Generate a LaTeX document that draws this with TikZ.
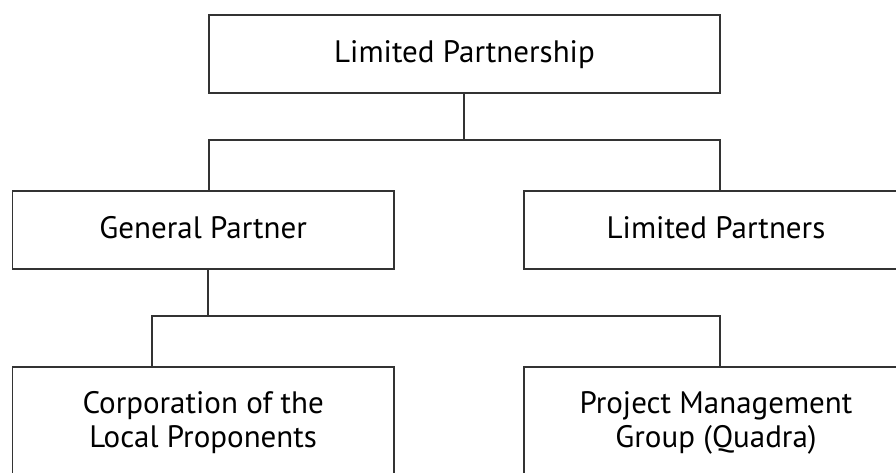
\documentclass[tikz,border=0pt]{standalone}
\usepackage{fontspec}
\setmainfont{PT Sans}
\begin{document}
\begin{tikzpicture}[x=1pt,y=-1pt,
  box/.style={draw=black!80, line width=1.3pt, inner sep=0pt},
  lbl/.style={anchor=base, inner sep=0pt, font=\fontsize{31}{37}\selectfont},
  wire/.style={draw=black!80, line width=1.3pt}]
\useasboundingbox (0,0) rectangle (896,473);
\clip (0,0) rectangle (896,473);
% boxes
\node[box, minimum width=511pt, minimum height=78pt] (top) at (464.5,54) {};
\node[box, minimum width=381.5pt, minimum height=78pt] (gp) at (203.2,230) {};
\node[box, minimum width=382pt, minimum height=78pt] (lp) at (715,230) {};
\node[box, minimum width=381.5pt, minimum height=130pt] (corp) at (203.2,432) {};
\node[box, minimum width=382pt, minimum height=130pt] (pmg) at (715,432) {};
% texts
\node[lbl] (ttop) at (464.5,62.7) {Limited Partnership};
\node[lbl] (tgp) at (203.2,238.5) {General Partner};
\node[lbl] (tlp) at (716,238.5) {Limited Partners};
\node[lbl] (tc1) at (203.2,413) {Corporation of the};
\node[lbl] (tc2) at (203.2,447) {Local Proponents};
\node[lbl] (tp1) at (716,413) {Project Management};
\node[lbl] (tp2) at (716,447) {Group (Quadra)};
% connectors
\coordinate (a) at (464,140);
\coordinate (al) at (209,140);
\coordinate (ar) at (720,140);
\coordinate (b) at (208,316);
\coordinate (bl) at (152,316);
\coordinate (br) at (720,316);
\draw[wire] (top.south -| a) -- (a);
\draw[wire] (al |- gp.north) -- (al) -- (ar) -- (ar |- lp.north);
\draw[wire] (gp.south -| b) -- (b);
\draw[wire] (bl |- corp.north) -- (bl) -- (br) -- (br |- pmg.north);
\end{tikzpicture}
\end{document}
